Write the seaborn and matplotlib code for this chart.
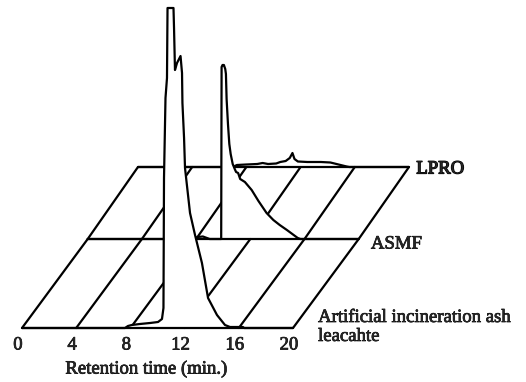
import matplotlib
matplotlib.use("Agg")
import matplotlib.pyplot as plt
import matplotlib.patheffects as pe
import seaborn as sns
import pandas as pd

# ---- data -------------------------------------------------------------
retention_ticks = [0, 4, 8, 12, 16, 20]
sample_names = ["Artificial incineration ash\nleacahte", "ASMF", "LPRO"]

# Artificial incineration ash leachate (front trace)
leachate_time = [0, 7.6, 7.82, 8.1, 8.7, 9.45, 10.04, 10.33, 10.44, 10.48, 10.59,
                 10.70, 10.74, 11.18, 11.22, 11.29, 11.44, 11.70, 11.81, 11.84,
                 11.96, 12.03, 12.4, 12.77, 13.28, 13.73, 14.39, 14.98, 15.35,
                 16.3, 16.4, 20]
leachate_signal = [0, 0, 2, 3, 4, 5, 6, 9, 20, 150, 230,
                   250, 320, 320, 300, 258, 265, 272, 255, 225,
                   190, 160, 115, 93, 65, 30, 13, 3, 1,
                   1, 0, 0]

# ASMF (middle trace)
asmf_time = [0, 7.8, 8.1, 8.5, 8.8, 9.0, 9.85, 9.88, 9.95, 10.05, 10.15, 10.2,
             10.25, 10.35, 10.45, 10.55, 10.7, 10.85, 10.95, 11.1, 11.25, 11.6,
             12.1, 12.6, 13.2, 13.7, 14.17, 14.7, 15.1, 15.5, 15.7, 20]
asmf_signal = [0, 0, 2, 2.5, 1, 0, 0, 172, 174, 174, 170, 165,
               140, 115, 95, 85, 75, 70, 67, 66, 60, 57,
               49, 38, 26, 19, 14, 9, 5, 1, 0, 0]

# LPRO (back trace)
lpro_time = [0, 7.0, 7.3, 8.0, 8.8, 9.2, 9.6, 10.2, 10.5, 10.9, 11.2, 11.4,
             11.55, 11.8, 12.5, 13.5, 14.2, 14.8, 15.4, 15.6, 20]
lpro_signal = [0, 0, 2, 2.5, 3, 4, 3, 3.5, 5, 6, 9, 14,
               8, 5.5, 5, 5, 4.5, 2.5, 0.5, 0, 0]

# ---- oblique projection of the three sample planes ---------------------
PX_PER_MIN = 13.55
depth_shift = {"front": (0.0, 0.0), "middle": (4.85, 89.0), "back": (8.56, 161.0)}

sns.set_theme(style="white")
plt.rcParams["font.family"] = ["Liberation Serif", "DejaVu Serif"]

fig = plt.figure(figsize=(5.26, 3.82), dpi=100)
ax = fig.add_axes([0, 0, 1, 1])
ax.set_xlim(-22 / PX_PER_MIN, (526 - 22) / PX_PER_MIN)
ax.set_ylim(-54, 328)
ax.axis("off")

LW = 1.6
INK = "black"


def trace(times, signal, plane, z):
    dx, dy = depth_shift[plane]
    df = pd.DataFrame({"x": [t + dx for t in times], "y": [s + dy for s in signal]})
    ax.fill_between(df["x"], dy, df["y"], color="white", lw=0, zorder=z)
    # plane baseline
    ax.plot([dx, 20 + dx], [dy, dy], color=INK, lw=LW, zorder=z + 0.1,
            solid_capstyle="butt")
    sns.lineplot(data=df, x="x", y="y", sort=False, estimator=None,
                 color=INK, lw=LW, ax=ax, zorder=z + 0.2)


# grid lines running from the front plane to the back plane
for t in retention_ticks:
    fx, fy = depth_shift["front"]
    mx, my = depth_shift["middle"]
    bx, by = depth_shift["back"]
    ax.plot([t + mx, t + bx], [my, by], color=INK, lw=LW, zorder=1)
    ax.plot([t + fx, t + mx], [fy, my], color=INK, lw=LW, zorder=2.5)

trace(lpro_time, lpro_signal, "back", 1.2)
trace(asmf_time, asmf_signal, "middle", 2.0)
trace(leachate_time, leachate_signal, "front", 3.0)

# ---- labels -------------------------------------------------------------
FS = 13.5
heavy = [pe.withStroke(linewidth=0.5, foreground=INK)]
for t in retention_ticks:
    ax.text(t - 0.3, -17, str(t), ha="center", va="center", fontsize=FS,
            path_effects=heavy)
ax.text(9.2, -41, "Retention time (min.)", ha="center", va="center",
        fontsize=FS, path_effects=heavy)

ax.text(29.1, 159, sample_names[2], ha="left", va="center", fontsize=FS,
        path_effects=[pe.withStroke(linewidth=0.9, foreground=INK)])
ax.text(25.75, 84, sample_names[1], ha="left", va="center", fontsize=FS,
        path_effects=heavy)
ax.text(21.85, 19, sample_names[0], ha="left", va="top", fontsize=FS,
        linespacing=1.15, path_effects=heavy)

fig.savefig("out.png", dpi=100)
